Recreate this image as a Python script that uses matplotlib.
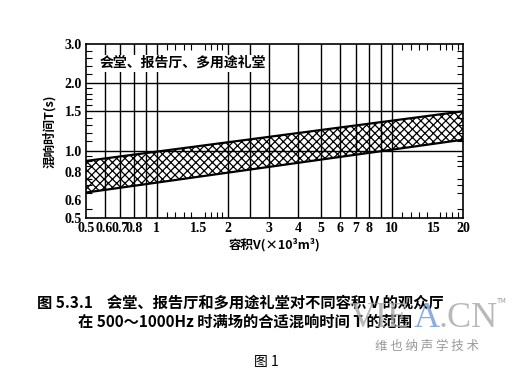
import matplotlib
matplotlib.use('Agg')
import matplotlib.pyplot as plt
from matplotlib.ticker import NullFormatter

plt.rcParams['font.family'] = ['Noto Sans CJK SC', 'DejaVu Sans']
plt.rcParams['hatch.linewidth'] = 0.9

# band of suitable reverberation time (log-log straight lines)
volume = [0.5, 20]
t_upper = [0.9, 1.5]
t_lower = [0.65, 1.12]

x_ticks = [0.5, 0.6, 0.7, 0.8, 1, 1.5, 2, 3, 4, 5, 6, 7, 8, 10, 15, 20]
x_labels = ['0.5', '0.6', '0.7', '0.8', '1', '1.5', '2', '3', '4', '5', '6', '7', '8', '10', '15', '20']
x_grid = [0.6, 0.7, 0.8, 0.9, 1, 2, 2.5, 3, 4, 5, 6, 7, 8, 9, 10]
x_minor = [1.1, 1.2, 1.3, 1.4, 1.5, 1.6, 1.7, 1.8, 1.9, 11, 12, 13, 14, 15, 16, 17, 18, 19]

y_ticks = [0.5, 0.6, 0.8, 1.0, 1.5, 2.0, 3.0]
y_labels = ['0.5', '0.6', '0.8', '1.0', '1.5', '2.0', '3.0']
y_grid = [1.0, 1.5, 2.0]
y_minor = [0.55, 0.65, 0.7, 0.75, 0.85, 0.9, 0.95, 1.1, 1.2, 1.3, 1.4,
           1.6, 1.7, 1.8, 1.9, 2.2, 2.4, 2.6, 2.8]

fig = plt.figure(figsize=(5.13, 3.73), dpi=100)
ax = fig.add_axes([0.1676, 0.4155, 0.7349, 0.4665])
ax.set_xscale('log')
ax.set_yscale('log')
ax.set_xlim(0.5, 20)
ax.set_ylim(0.5, 3.0)

for v in x_grid:
	ax.axvline(v, color='black', lw=1.0, zorder=1)
for t in y_grid:
	ax.axhline(t, color='black', lw=1.0, zorder=1)

ax.fill_between(volume, t_lower, t_upper, facecolor='none', edgecolor='black',
				hatch='xxxx', lw=0, zorder=2)
ax.plot(volume, t_upper, color='black', lw=1.6, zorder=3)
ax.plot(volume, t_lower, color='black', lw=1.6, zorder=3)

ax.set_xticks(x_ticks)
ax.set_xticklabels(x_labels)
ax.set_xticks(x_minor, minor=True)
ax.xaxis.set_minor_formatter(NullFormatter())
ax.set_yticks(y_ticks)
ax.set_yticklabels(y_labels)
ax.set_yticks(y_minor, minor=True)
ax.yaxis.set_minor_formatter(NullFormatter())
ax.tick_params(which='both', direction='in', top=True, right=True)
ax.tick_params(which='major', length=0, pad=3)
ax.tick_params(which='minor', length=4, width=0.8)
for lab in ax.get_xticklabels() + ax.get_yticklabels():
	lab.set_fontfamily('Liberation Serif')
	lab.set_fontweight('bold')
	lab.set_fontsize(10)
for s in ax.spines.values():
	s.set_linewidth(1.2)

ax.text(0.035, 0.89, '会堂、报告厅、多用途礼堂', transform=ax.transAxes,
		fontsize=10, fontweight='bold', ha='left', va='center', zorder=4,
		bbox=dict(facecolor='white', edgecolor='none', pad=1))

ax.set_ylabel('混响时间T(s)', fontsize=9, fontweight='bold', labelpad=6)
ax.set_xlabel('容积V(×10³m³)', fontsize=9, fontweight='bold', labelpad=2)

# caption
fig.text(0.072, 0.188, '图 5.3.1    会堂、报告厅和多用途礼堂对不同容积 V 的观众厅',
		 fontsize=11, fontweight='bold', ha='left', va='center', zorder=1)
fig.text(0.478, 0.137, '在 500～1000Hz 时满场的合适混响时间 T 的范围',
		 fontsize=11, fontweight='bold', ha='center', va='center', zorder=1)
fig.text(0.52, 0.03, '图 1', fontsize=10, ha='center', va='center')

# watermark
fig.text(0.682, 0.145, 'VIE', color='#a8a8a8', alpha=0.8, fontsize=26,
		 fontfamily='Liberation Serif', ha='left', va='center', zorder=5)
fig.text(0.807, 0.145, 'A', color='#6f9ad6', alpha=0.8, fontsize=26,
		 fontfamily='Liberation Serif', ha='left', va='center', zorder=5)
fig.text(0.855, 0.145, '.CN', color='#a8a8a8', alpha=0.8, fontsize=26,
		 fontfamily='Liberation Serif', ha='left', va='center', zorder=5)
fig.text(0.978, 0.193, 'TM', fontsize=5, color='#999999', ha='center', va='center')
fig.text(0.832, 0.07, '维 也 纳 声 学 技 术', fontsize=9, color='#999999',
		 ha='center', va='center')

fig.savefig('out.png', dpi=100)
